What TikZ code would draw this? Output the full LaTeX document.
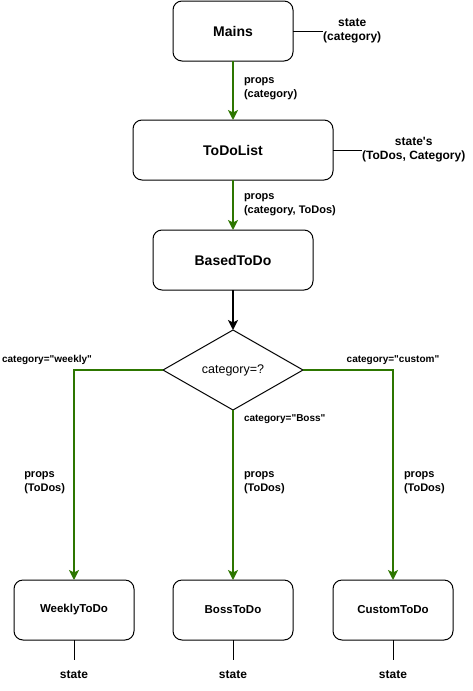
\documentclass[tikz,border=0pt]{standalone}
\usepackage{fontspec}
\setmainfont{Liberation Sans}[Ligatures=TeXOff]
\usetikzlibrary{arrows.meta, positioning, shapes.geometric}
\definecolor{propgreen}{HTML}{2D7600}

\begin{document}
\begin{tikzpicture}[x=1pt, y=1pt,
    node distance=60pt and 39pt,
    comp/.style={rectangle, rounded corners=9pt, draw, line width=1pt, outer sep=0pt,
      minimum height=60pt, align=center, font=\fontsize{14}{17}\selectfont\bfseries},
    leaf/.style={comp, minimum width=120pt, font=\fontsize{11.5}{14}\selectfont\bfseries},
    dec/.style={diamond, draw, line width=1pt, inner sep=0pt, outer sep=0pt,
      minimum width=140pt, minimum height=80pt, font=\fontsize{12.5}{15}\selectfont},
    st/.style={inner sep=0pt, align=center, font=\fontsize{12}{14}\selectfont\bfseries},
    plbl/.style={inner sep=0pt, align=left, text=black, font=\fontsize{11}{14}\selectfont\bfseries},
    clbl/.style={inner sep=0pt, text=black, font=\fontsize{10}{12}\selectfont\bfseries},
    parr/.style={-{Stealth[length=10pt, width=10pt, inset=2.5pt]}, line width=2pt, propgreen},
    arr/.style={-{Stealth[length=10pt, width=10pt, inset=2.5pt]}, line width=2pt},
    link/.style={line width=1pt}
  ]
  \useasboundingbox (0,0) rectangle (473,-691);

  \node[comp, minimum width=120pt] (mains) at (233,-31) {Mains};
  \node[comp, minimum width=200pt, below=59pt of mains] (todolist) {ToDoList};
  \node[comp, minimum width=160pt, below=50pt of todolist] (based) {BasedToDo};
  \node[dec, below=40pt of based] (cat) {category=?};
  \node[leaf, below=170pt of cat] (boss) {BossToDo};
  \node[leaf, left=39pt of boss] (weekly) {WeeklyToDo};
  \node[leaf, right=40pt of boss] (custom) {CustomToDo};

  % state of each component
  \node[st, right=30pt of mains] (mstate) {state\\(category)};
  \node[st, right=29pt of todolist] (tstate) {state's\\(ToDos, Category)};
  \node[st, inner ysep=10pt, below=20pt of weekly] (wstate) {state};
  \node[st, inner ysep=10pt, below=20pt of boss] (bstate) {state};
  \node[st, inner ysep=10pt, below=20pt of custom] (cstate) {state};

  \draw[link] (mains.east) -- (mstate.west);
  \draw[link] (todolist.east) -- (tstate.west);
  \draw[link] (weekly) -- (wstate);
  \draw[link] (boss) -- (bstate);
  \draw[link] (custom) -- (cstate);

  % props passed down
  \draw[parr] (mains) -- node[plbl, right=10pt, yshift=2pt] {props\\(category)} (todolist);
  \draw[parr] (todolist) -- node[plbl, right=10pt, yshift=0pt] {props\\(category, ToDos)} (based);
  \draw[arr] (based) -- (cat);
  \draw[parr] (cat.west) -| node[clbl, pos=0.5, above=4pt, xshift=-27pt] {category="weekly"}
    node[plbl, pos=0.75, left=8pt, yshift=-8pt] {props\\(ToDos)} (weekly);
  \draw[parr] (cat) -- node[clbl, pos=0, anchor=north west, xshift=10pt, yshift=-4pt] {category="Boss"}
    node[plbl, pos=0.4, right=10pt, yshift=-5pt] {props\\(ToDos)} (boss);
  \draw[parr] (cat.east) -| node[clbl, pos=0.5, above=4pt] {category="custom"}
    node[plbl, pos=0.75, right=10pt, yshift=-8pt] {props\\(ToDos)} (custom);
\end{tikzpicture}
\end{document}
